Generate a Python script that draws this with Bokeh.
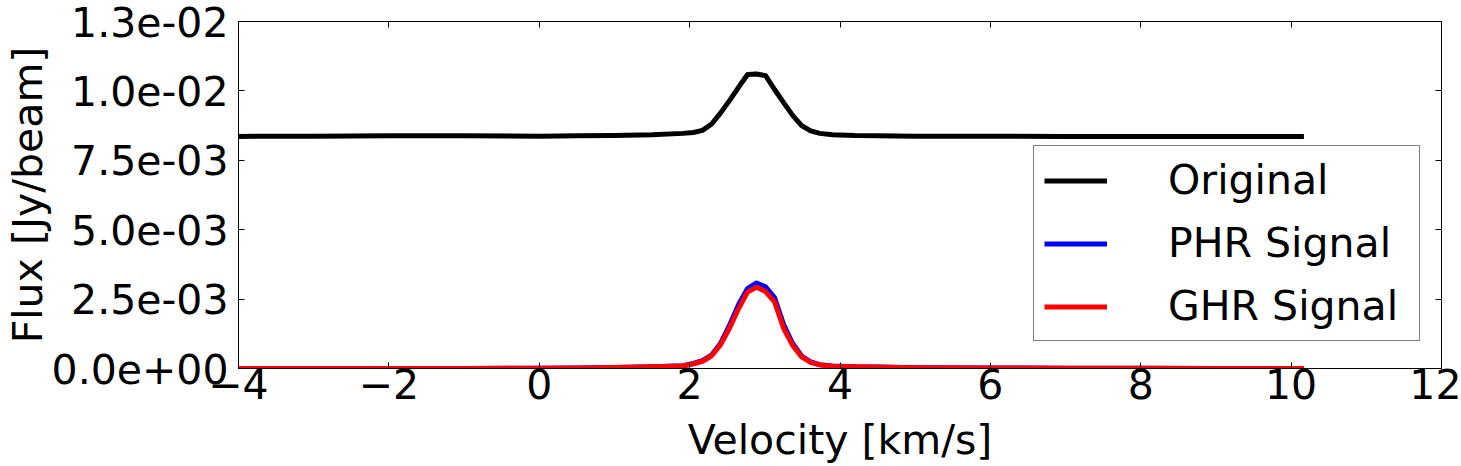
from bokeh.plotting import figure
from bokeh.models import LinearAxis, FixedTicker, CustomJSTickFormatter, Range1d
from bokeh.embed import file_html
from bokeh.resources import INLINE

# ---- data ----
velocity = [-4.0, -3.0, -2.0, -1.0, 0.0, 0.5, 1.0, 1.5, 1.91, 2.05, 2.17, 2.29, 2.41,
            2.53, 2.65, 2.77, 2.89, 3.01, 3.13, 3.25, 3.37, 3.49, 3.61, 3.73, 3.90,
            4.2, 4.5, 5.0, 6.0, 7.0, 8.0, 9.0, 10.17]
original = [8.36e-3, 8.37e-3, 8.38e-3, 8.38e-3, 8.37e-3, 8.38e-3, 8.39e-3, 8.42e-3,
            8.47e-3, 8.50e-3, 8.58e-3, 8.80e-3, 9.20e-3, 9.65e-3, 1.013e-2, 1.059e-2,
            1.061e-2, 1.055e-2, 1.005e-2, 9.58e-3, 9.12e-3, 8.75e-3, 8.56e-3, 8.47e-3,
            8.42e-3, 8.39e-3, 8.38e-3, 8.37e-3, 8.37e-3, 8.36e-3, 8.36e-3, 8.36e-3, 8.36e-3]
phr_signal = [0, 0, 0, 0, 1e-5, 2e-5, 4e-5, 6e-5, 1.0e-4, 1.8e-4, 2.8e-4, 4.8e-4, 9.0e-4,
              1.55e-3, 2.30e-3, 2.88e-3, 3.08e-3, 2.94e-3, 2.55e-3, 1.58e-3, 9.0e-4,
              4.5e-4, 2.4e-4, 1.4e-4, 9e-5, 6e-5, 5e-5, 3e-5, 2e-5, 1e-5, 1e-5, 0, 0]
ghr_signal = [0, 0, 0, 0, 1e-5, 2e-5, 4e-5, 6e-5, 9e-5, 1.7e-4, 2.6e-4, 4.5e-4, 8.5e-4,
              1.45e-3, 2.15e-3, 2.75e-3, 2.93e-3, 2.77e-3, 2.40e-3, 1.45e-3, 8.3e-4,
              4.2e-4, 2.2e-4, 1.3e-4, 8e-5, 6e-5, 5e-5, 3e-5, 2e-5, 1e-5, 1e-5, 0, 0]

xtick_values = [-4, -2, 0, 2, 4, 6, 8, 10, 12]
xtick_labels = ["\u22124", "\u22122", "0", "2", "4", "6", "8", "10", "12"]
ytick_values = [0.0, 0.0025, 0.005, 0.0075, 0.01, 0.0125]
ytick_labels = ["0.0e+00", "2.5e-03", "5.0e-03", "7.5e-03", "1.0e-02", "1.3e-02"]

FONT = "DejaVu Sans"
FS = "41px"

p = figure(width=1461, height=466, output_backend="svg", toolbar_location=None,
           x_range=Range1d(-4, 12), y_range=Range1d(0, 0.0125),
           min_border_left=235, min_border_right=20, min_border_top=21, min_border_bottom=98,
           x_axis_label="Velocity [km/s]", y_axis_label="Flux [Jy/beam]")
p.grid.visible = False
p.outline_line_color = "black"
p.outline_line_width = 1
p.background_fill_color = "white"
p.border_fill_color = "white"

code = """
let best = 0;
for (let i = 0; i < vals.length; i++) {
  if (Math.abs(vals[i] - tick) < Math.abs(vals[best] - tick)) best = i;
}
return labs[best];
"""
xfmt = CustomJSTickFormatter(args=dict(vals=xtick_values, labs=xtick_labels), code=code)
yfmt = CustomJSTickFormatter(args=dict(vals=ytick_values, labs=ytick_labels), code=code)

xa = p.xaxis[0]
xa.ticker = FixedTicker(ticks=xtick_values)
xa.formatter = xfmt
xa.major_label_standoff = 0
xa.axis_label_standoff = 14
ya = p.yaxis[0]
ya.ticker = FixedTicker(ticks=ytick_values)
ya.formatter = yfmt
ya.major_label_standoff = 10
ya.axis_label_standoff = -3

for ax in (xa, ya):
    ax.major_tick_in = 6
    ax.major_tick_out = 0
    ax.minor_tick_in = 0
    ax.minor_tick_out = 0
    ax.major_label_text_font = FONT
    ax.major_label_text_font_size = FS
    ax.major_label_text_color = "black"
    ax.axis_label_text_font = FONT
    ax.axis_label_text_font_size = FS
    ax.axis_label_text_font_style = "normal"
    ax.axis_label_text_color = "black"
    ax.axis_line_color = "black"
    ax.major_tick_line_color = "black"

# top / right frame ticks (inward, no labels) drawn as minor ticks
top = LinearAxis(ticker=FixedTicker(ticks=[], minor_ticks=xtick_values))
right = LinearAxis(ticker=FixedTicker(ticks=[], minor_ticks=ytick_values))
for ax in (top, right):
    ax.major_tick_in = 0
    ax.major_tick_out = 0
    ax.minor_tick_in = 6
    ax.minor_tick_out = 0
    ax.minor_tick_line_color = "black"
    ax.major_label_standoff = 0
    ax.axis_line_color = "black"
p.add_layout(top, "above")
p.add_layout(right, "right")

p.line(velocity, original, line_color="black", line_width=5, line_join="round",
       legend_label="Original")
p.line(velocity, phr_signal, line_color="blue", line_width=5, line_join="round",
       legend_label="PHR Signal")
p.line(velocity, ghr_signal, line_color="red", line_width=5, line_join="round",
       legend_label="GHR Signal")

lg = p.legend[0]
lg.location = (795, 27)
lg.label_text_font = FONT
lg.label_text_font_size = FS
lg.label_text_color = "black"
lg.glyph_width = 63
lg.glyph_height = 47
lg.label_height = 47
lg.label_width = 241
lg.label_standoff = 61
lg.padding = 10
lg.spacing = 15
lg.margin = 0
lg.border_line_color = "black"
lg.border_line_width = 1
lg.background_fill_color = "white"
lg.background_fill_alpha = 1.0

open("out.html", "w").write(file_html(p, INLINE))
